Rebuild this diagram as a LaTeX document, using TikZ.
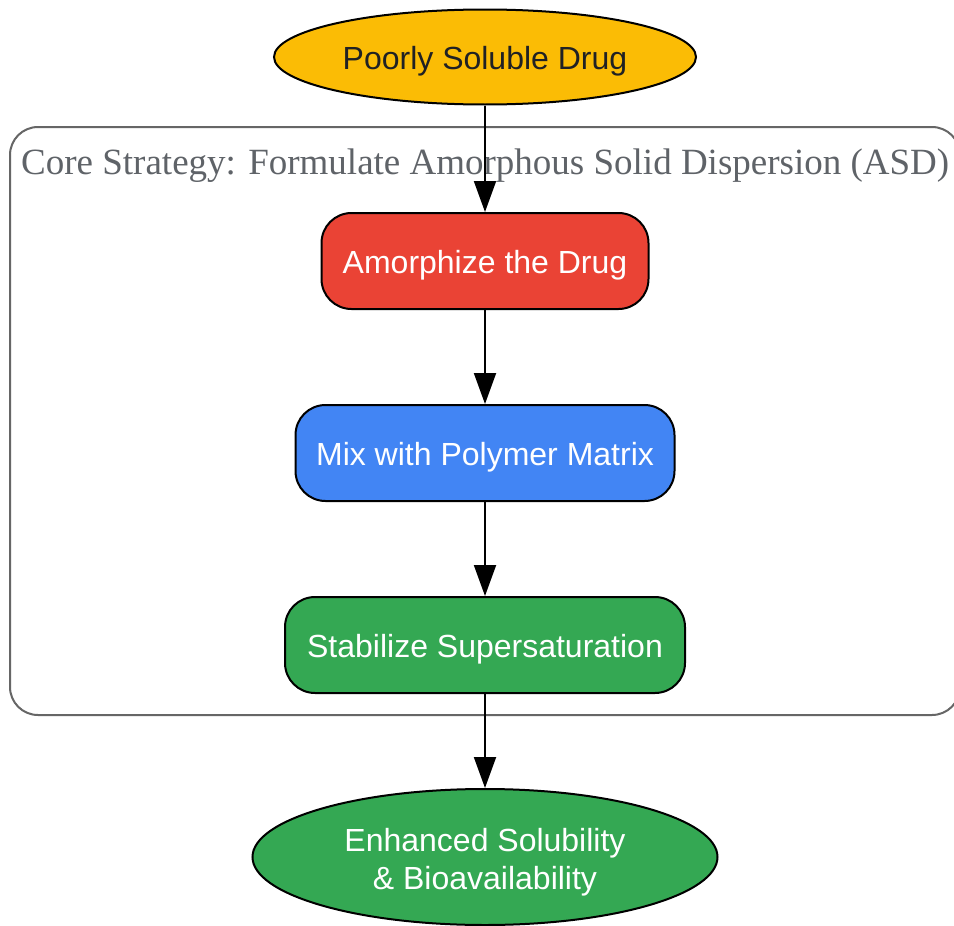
\documentclass[tikz,border=0pt]{standalone}
\usepackage{fontspec}
\setmainfont{Liberation Sans}
\newfontfamily\serifcl{Liberation Serif}
\usetikzlibrary{shapes.geometric,arrows.meta}
\definecolor{gyellow}{HTML}{FBBC05}
\definecolor{gred}{HTML}{EA4335}
\definecolor{gblue}{HTML}{4285F4}
\definecolor{ggreen}{HTML}{34A853}
\definecolor{gdark}{HTML}{202124}
\definecolor{cgray}{HTML}{666666}
\definecolor{lgray}{HTML}{5F6368}
\tikzset{
  stepbox/.style={draw=black, line width=2pt, rounded corners=30pt, minimum height=96pt, inner sep=0pt, text=white, text height=24pt, text depth=0pt, font=\fontsize{32}{38}\selectfont},
  endell/.style={draw=black, line width=2pt, ellipse, inner sep=0pt, font=\fontsize{32}{38}\selectfont, align=center},
  flow/.style={draw=black, line width=2pt, -{Triangle[length=31pt,width=22pt]}},
}
\begin{document}
\begin{tikzpicture}[x=1pt,y=-1pt]
\useasboundingbox (0,0) rectangle (954,926);
\fill[white] (0,0) rectangle (954,926);
% cluster
\draw[cgray, line width=2pt, rounded corners=28pt] (10,127) rectangle (960,715);
\node[anchor=base west, text=lgray, font=\serifcl\fontsize{37}{44}\selectfont, inner sep=0pt] (cl) at (21,174) {Core Strategy: Formulate Amorphous Solid Dispersion (ASD)};
% nodes
\node[endell, fill=gyellow, text=gdark, minimum width=422pt, minimum height=95pt, text height=24pt, text depth=0pt] (start) at (485,57) {Poorly Soluble Drug};
\node[stepbox, fill=gred, minimum width=327pt] (amor) at (485,261) {Amorphize the Drug};
\node[stepbox, fill=gblue, minimum width=379pt] (mix) at (485,453) {Mix with Polymer Matrix};
\node[stepbox, fill=ggreen, minimum width=400pt] (stab) at (485,645) {Stabilize Supersaturation};
\node[endell, fill=ggreen, text=white, minimum width=465pt, minimum height=136pt, text height=65pt, text depth=0pt] (end) at (485,857) {Enhanced Solubility\\\& Bioavailability};
% edges
\draw[flow] (start) -- (amor);
\draw[flow] (amor) -- (mix);
\draw[flow] (mix) -- (stab);
\draw[flow] (stab) -- (end);
\end{tikzpicture}
\end{document}
